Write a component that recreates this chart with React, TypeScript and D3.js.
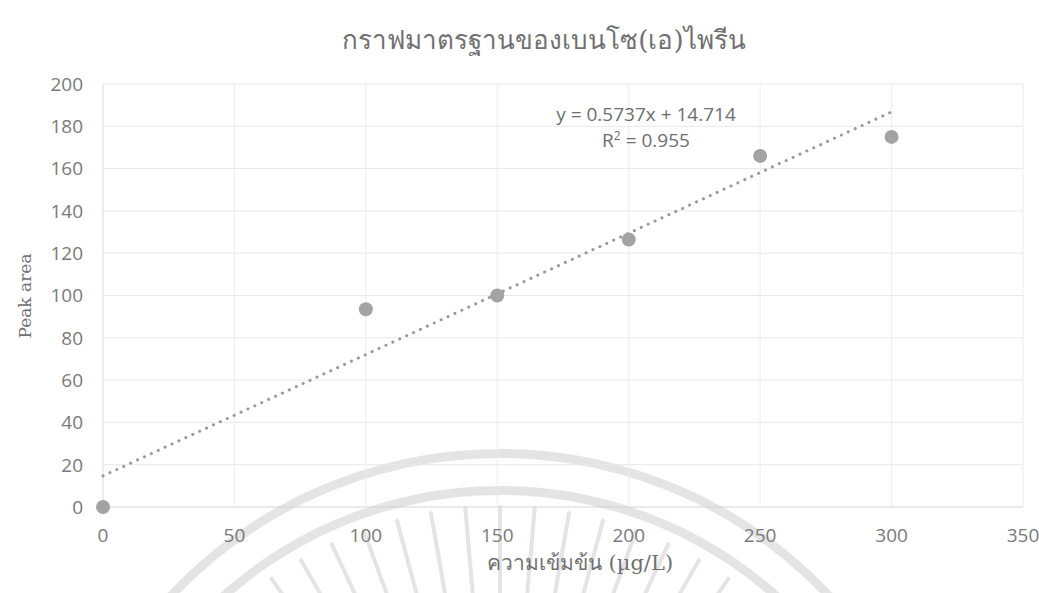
import React from "react";
import * as d3 from "d3";

const concentrations = [0, 100, 150, 200, 250, 300];
const peakAreas = [0, 93.5, 100, 126.5, 166, 175];
const xTicks = [0, 50, 100, 150, 200, 250, 300, 350];
const yTicks = [0, 20, 40, 60, 80, 100, 120, 140, 160, 180, 200];
const slope = 0.5737;
const intercept = 14.714;
const rSquared = 0.955;
const title = "กราฟมาตรฐานของเบนโซ(เอ)ไพรีน";
const xTitle = "ความเข้มข้น (µg/L)";
const yTitle = "Peak area";

const W = 1039;
const H = 593;
const M = { left: 103, right: 1023, top: 84, bottom: 507 };

export default function App() {
  const x = d3.scaleLinear().domain([0, 350]).range([M.left, M.right]);
  const y = d3.scaleLinear().domain([0, 200]).range([M.bottom, M.top]);
  const trend = d3
    .line<number>()
    .x((d) => x(d))
    .y((d) => y(slope * d + intercept));
  const tickFont = "'Open Sans', sans-serif";
  const textColor = "#7a7a7a";
  const serif = "'DejaVu Serif', 'Liberation Serif', serif";

  // watermark geometry (decorative)
  const wcx = 500;
  const wcy = 905;
  const arc = d3.arc();
  const rays = d3.range(-50, 51, 5);

  return (
    <svg
      width={W}
      height={H}
      style={{ position: "absolute", left: 0, top: 0, background: "#fff" }}
    >
      <rect width={W} height={H} fill="#fff" />
      {/* faint watermark */}
      <g transform={`translate(${wcx},${wcy})`} opacity={0.22} fill="#8a8a8a">
        <path
          d={
            arc({
              innerRadius: 447,
              outerRadius: 456,
              startAngle: -0.85,
              endAngle: 0.85,
            }) || ""
          }
        />
        <path
          d={
            arc({
              innerRadius: 410,
              outerRadius: 419,
              startAngle: -0.8,
              endAngle: 0.8,
            }) || ""
          }
        />
        {rays.map((a, i) => {
          const rad = (a * Math.PI) / 180;
          const r1 = 290;
          const r2 = 398;
          return (
            <line
              key={"r" + i}
              x1={Math.sin(rad) * r1}
              y1={-Math.cos(rad) * r1}
              x2={Math.sin(rad) * r2}
              y2={-Math.cos(rad) * r2}
              stroke="#8a8a8a"
              strokeWidth={4}
              strokeLinecap="round"
            />
          );
        })}
      </g>
      {/* gridlines */}
      {yTicks.map((t) => (
        <line
          key={"gy" + t}
          x1={M.left}
          x2={M.right}
          y1={y(t)}
          y2={y(t)}
          stroke={t === 0 ? "#d4d4d4" : "#e8e8e8"}
          strokeWidth={1}
        />
      ))}
      {xTicks.map((t) => (
        <line
          key={"gx" + t}
          x1={x(t)}
          x2={x(t)}
          y1={M.top}
          y2={M.bottom}
          stroke={t === 0 ? "#dcdcdc" : "#ececec"}
          strokeWidth={1}
        />
      ))}
      {/* tick labels */}
      {yTicks.map((t) => (
        <text
          key={"ly" + t}
          x={83}
          y={y(t)}
          dy="0.36em"
          textAnchor="end"
          fontFamily={tickFont}
          fontSize={19}
          fill={textColor}
        >
          {t}
        </text>
      ))}
      {xTicks.map((t) => (
        <text
          key={"lx" + t}
          x={x(t)}
          y={535}
          dy="0.36em"
          textAnchor="middle"
          fontFamily={tickFont}
          fontSize={19}
          fill={textColor}
        >
          {t}
        </text>
      ))}
      {/* trendline */}
      <path
        d={trend([0, 300]) || ""}
        fill="none"
        stroke="#9a9a9a"
        strokeWidth={3}
        strokeLinecap="round"
        strokeDasharray="0.1 7.5"
      />
      {/* points */}
      {concentrations.map((c, i) => (
        <circle
          key={"p" + i}
          cx={x(c)}
          cy={y(peakAreas[i])}
          r={7}
          fill="#a3a3a3"
        />
      ))}
      {/* equation */}
      <text
        x={646}
        y={114}
        dy="0.36em"
        textAnchor="middle"
        fontFamily={tickFont}
        fontSize={19}
        fill="#6e6e6e"
      >
        {`y = ${slope}x + ${intercept}`}
      </text>
      <text
        x={646}
        y={140}
        dy="0.36em"
        textAnchor="middle"
        fontFamily={tickFont}
        fontSize={19}
        fill="#6e6e6e"
      >
        R<tspan dy="-7" fontSize={12}>2</tspan>
        <tspan dy="7">{` = ${rSquared}`}</tspan>
      </text>
      {/* titles */}
      <text
        x={544}
        y={40}
        dy="0.36em"
        textAnchor="middle"
        fontFamily={serif}
        fontSize={26}
        fill="#707070"
      >
        {title}
      </text>
      <text
        transform={`translate(25,296) rotate(-90)`}
        dy="0.36em"
        textAnchor="middle"
        fontFamily={serif}
        fontSize={17}
        fill="#707070"
      >
        {yTitle}
      </text>
      <text
        x={580}
        y={562}
        dy="0.36em"
        textAnchor="middle"
        fontFamily={serif}
        fontSize={21}
        fill="#707070"
      >
        {xTitle}
      </text>
    </svg>
  );
}
